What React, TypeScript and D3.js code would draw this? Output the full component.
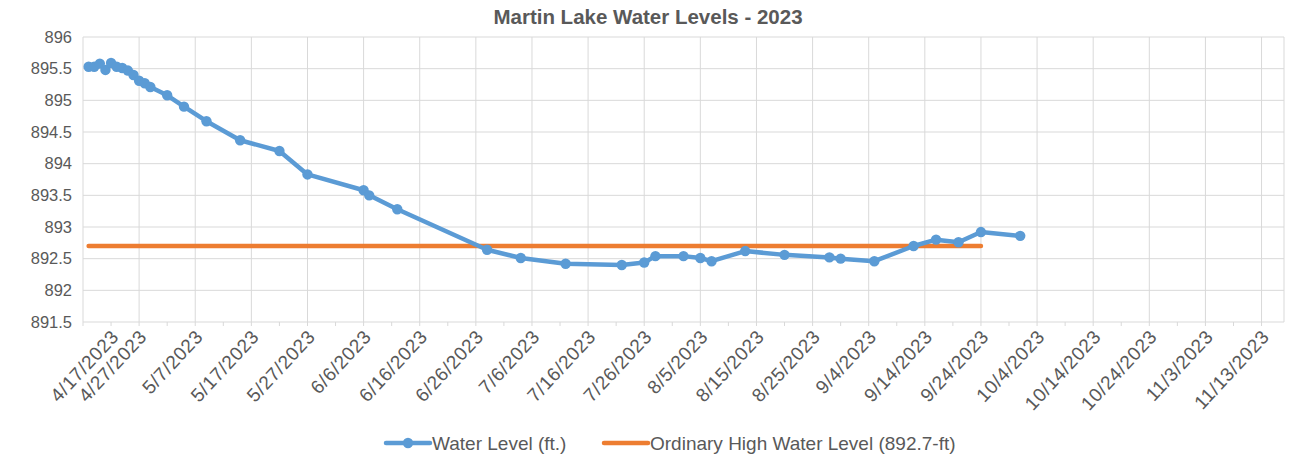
import React, { useEffect, useRef } from 'react';
import * as d3 from 'd3';

// readings of the water level (ft.)
const levelDates = [
  '4/18/2023', '4/19/2023', '4/20/2023', '4/21/2023', '4/22/2023', '4/23/2023',
  '4/24/2023', '4/25/2023', '4/26/2023', '4/27/2023', '4/28/2023', '4/29/2023',
  '5/2/2023', '5/5/2023', '5/9/2023', '5/15/2023', '5/22/2023', '5/27/2023',
  '6/6/2023', '6/7/2023', '6/12/2023', '6/28/2023', '7/4/2023', '7/12/2023',
  '7/22/2023', '7/26/2023', '7/28/2023', '8/2/2023', '8/5/2023', '8/7/2023',
  '8/13/2023', '8/20/2023', '8/28/2023', '8/30/2023', '9/5/2023', '9/12/2023',
  '9/16/2023', '9/20/2023', '9/24/2023', '10/1/2023',
];
const levelValues = [
  895.53, 895.53, 895.58, 895.48, 895.59, 895.53,
  895.51, 895.47, 895.40, 895.31, 895.27, 895.21,
  895.08, 894.90, 894.67, 894.37, 894.20, 893.83,
  893.58, 893.50, 893.28, 892.64, 892.51, 892.42,
  892.40, 892.44, 892.54, 892.54, 892.51, 892.46,
  892.62, 892.56, 892.52, 892.50, 892.46, 892.70,
  892.80, 892.76, 892.92, 892.86,
];

// ordinary high water level
const ohwDates = ['4/18/2023', '9/24/2023'];
const ohwValues = [892.7, 892.7];

const xTickLabels = [
  '4/17/2023', '4/27/2023', '5/7/2023', '5/17/2023', '5/27/2023', '6/6/2023',
  '6/16/2023', '6/26/2023', '7/6/2023', '7/16/2023', '7/26/2023', '8/5/2023',
  '8/15/2023', '8/25/2023', '9/4/2023', '9/14/2023', '9/24/2023', '10/4/2023',
  '10/14/2023', '10/24/2023', '11/3/2023', '11/13/2023',
];
const yTicks = [891.5, 892, 892.5, 893, 893.5, 894, 894.5, 895, 895.5, 896];

const parse = d3.timeParse('%m/%d/%Y');
const W = 1296;
const H = 459;
const FONT = '"Liberation Sans", Arial, sans-serif';
const BLUE = '#5b9bd5';
const ORANGE = '#ed7d31';
const TEXT = '#595959';

const App = () => {
  const svgRef = useRef(null);

  useEffect(() => {
    const svg = d3.select(svgRef.current);
    svg.selectAll('*').remove();

    const margin = { left: 83, right: 12, top: 37, bottom: 137 };
    const x = d3.scaleTime()
      .domain([parse('4/17/2023'), parse('11/17/2023')])
      .range([margin.left, W - margin.right]);
    const y = d3.scaleLinear()
      .domain([891.5, 896])
      .range([H - margin.bottom, margin.top]);

    const g = svg.append('g');

    // horizontal grid
    g.selectAll('.hg').data(yTicks).join('line')
      .attr('x1', x.range()[0]).attr('x2', x.range()[1])
      .attr('y1', d => y(d)).attr('y2', d => y(d))
      .attr('stroke', '#d9d9d9').attr('stroke-width', 1);

    // vertical grid
    const tickDates = xTickLabels.map(parse);
    g.selectAll('.vg').data(tickDates).join('line')
      .attr('x1', d => x(d)).attr('x2', d => x(d))
      .attr('y1', y.range()[0]).attr('y2', y.range()[1])
      .attr('stroke', '#d9d9d9').attr('stroke-width', 1);
    g.append('line')
      .attr('x1', x.range()[1]).attr('x2', x.range()[1])
      .attr('y1', y.range()[0]).attr('y2', y.range()[1])
      .attr('stroke', '#d9d9d9');

    // minor ticks every 5 days
    const minor = d3.range(0, 43).map(i => d3.timeDay.offset(parse('4/17/2023'), i * 5))
      .filter(d => d <= x.domain()[1]);
    g.selectAll('.mt').data(minor).join('line')
      .attr('x1', d => x(d)).attr('x2', d => x(d))
      .attr('y1', y.range()[0]).attr('y2', y.range()[0] + 4)
      .attr('stroke', '#d9d9d9');

    // y labels
    g.selectAll('.yl').data(yTicks).join('text')
      .attr('x', margin.left - 11)
      .attr('y', d => y(d))
      .attr('dy', '0.35em')
      .attr('text-anchor', 'end')
      .style('font-family', FONT)
      .style('font-size', '16.5px')
      .style('fill', TEXT)
      .text(d => String(d));

    // x labels, rotated
    const fmt = d3.timeFormat('%-m/%-d/%Y');
    g.selectAll('.xl').data(tickDates).join('text')
      .attr('transform', (d, i) => {
        const px = i === 0 ? x(d) + 28 : x(d);
        return `translate(${px + 4},${y.range()[0] + 11}) rotate(-47)`;
      })
      .attr('text-anchor', 'end')
      .attr('dy', '0.35em')
      .style('font-family', FONT)
      .style('font-size', '19px')
      .style('letter-spacing', '0.6px')
      .style('fill', TEXT)
      .text(d => fmt(d));

    // OHW line
    const ohw = ohwDates.map((d, i) => ({ date: parse(d), value: ohwValues[i] }));
    const line = d3.line<any>().x(d => x(d.date)).y(d => y(d.value));
    g.append('path')
      .attr('d', line(ohw))
      .attr('fill', 'none')
      .attr('stroke', ORANGE)
      .attr('stroke-width', 4.5)
      .attr('stroke-linecap', 'round');

    // water level
    const lvl = levelDates.map((d, i) => ({ date: parse(d), value: levelValues[i] }));
    g.append('path')
      .attr('d', line(lvl))
      .attr('fill', 'none')
      .attr('stroke', BLUE)
      .attr('stroke-width', 4.5)
      .attr('stroke-linejoin', 'round')
      .attr('stroke-linecap', 'round');
    g.selectAll('.pt').data(lvl).join('circle')
      .attr('cx', d => x(d.date))
      .attr('cy', d => y(d.value))
      .attr('r', 5.2)
      .attr('fill', BLUE);

    // title
    svg.append('text')
      .attr('x', W / 2)
      .attr('y', 24)
      .attr('text-anchor', 'middle')
      .style('font-family', FONT)
      .style('font-size', '20.5px')
      .style('font-weight', 'bold')
      .style('fill', TEXT)
      .text('Martin Lake Water Levels - 2023');

    // legend
    const ly = 443;
    const leg = svg.append('g');
    leg.append('line')
      .attr('x1', 386).attr('x2', 430).attr('y1', ly).attr('y2', ly)
      .attr('stroke', BLUE).attr('stroke-width', 4.5).attr('stroke-linecap', 'round');
    leg.append('circle').attr('cx', 408).attr('cy', ly).attr('r', 5.2).attr('fill', BLUE);
    leg.append('text')
      .attr('x', 432).attr('y', ly).attr('dy', '0.35em')
      .style('font-family', FONT).style('font-size', '19px').style('fill', TEXT)
      .text('Water Level (ft.)');
    leg.append('line')
      .attr('x1', 604).attr('x2', 648).attr('y1', ly).attr('y2', ly)
      .attr('stroke', ORANGE).attr('stroke-width', 4.5).attr('stroke-linecap', 'round');
    leg.append('text')
      .attr('x', 650).attr('y', ly).attr('dy', '0.35em')
      .style('font-family', FONT).style('font-size', '19px').style('fill', TEXT)
      .text('Ordinary High Water Level (892.7-ft)');
  }, []);

  return (
    <svg
      ref={svgRef}
      width={W}
      height={H}
      style={{ position: 'absolute', left: 0, top: 0, background: '#fff' }}
    />
  );
};

export default App;
